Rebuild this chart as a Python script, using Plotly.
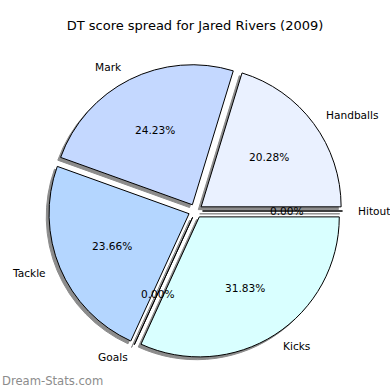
import math
import plotly.graph_objects as go

labels = ["Handballs", "Mark", "Tackle", "Goals", "Kicks", "Hitout"]
values = [20.28, 24.23, 23.66, 0.0, 31.83, 0.0]
colors = ["#eaf1ff", "#c4d8ff", "#b4d6ff", "#ffffff", "#d9ffff", "#ffffff"]
explode = [0.05] * len(labels)

W = H = 390
cx, cy_top, r = 195.5, 211.0, 140.0
half = r * (1 + max(explode))
dom_x = [(cx - half) / W, (cx + half) / W]
dom_y = [(H - cy_top - half) / H, (H - cy_top + half) / H]
sh = 0.02 * r  # matplotlib shadow offset (-0.02, -0.02) in data units
shadow_x = [dom_x[0] - sh / W, dom_x[1] - sh / W]
shadow_y = [dom_y[0] - sh / H, dom_y[1] - sh / H]

total = sum(values)
# first slice starts at 3 o'clock, going counter-clockwise (plotly: rotation = clockwise from 12)
rotation = 90 - values[0] / total * 360

common = dict(labels=labels, values=values, sort=False, direction="counterclockwise",
              rotation=rotation, pull=explode, showlegend=False, hoverinfo="skip",
              textinfo="none")

fig = go.Figure()
fig.add_trace(go.Pie(**common, domain=dict(x=shadow_x, y=shadow_y),
                     marker=dict(colors=["#8c8c8c"] * len(labels),
                                 line=dict(color="#8c8c8c", width=1))))
fig.add_trace(go.Pie(**common, domain=dict(x=dom_x, y=dom_y),
                     marker=dict(colors=colors, line=dict(color="black", width=1))))

FS = 10.6
# text positions computed from the data (matplotlib-style labeldistance 1.1, pctdistance 0.6)
annotations = []
theta = 0.0
for lab, v, ex in zip(labels, values, explode):
    frac = v / total
    mid = math.radians((theta + frac / 2) * 360)
    theta += frac
    ecx = cx + ex * r * math.cos(mid)
    ecy = cy_top - ex * r * math.sin(mid)
    lx = ecx + 1.1 * r * math.cos(mid)
    ly = ecy - 1.1 * r * math.sin(mid)
    px = ecx + 0.6 * r * math.cos(mid)
    py = ecy - 0.6 * r * math.sin(mid)
    annotations.append(dict(text=lab, xref="paper", yref="paper", x=lx / W, y=1 - ly / H,
                            xanchor="left" if math.cos(mid) > 0 else "right", yanchor="middle",
                            showarrow=False, borderpad=0,
                            font=dict(family="DejaVu Sans", size=FS, color="black")))
    annotations.append(dict(text=f"{frac * 100:.2f}%", xref="paper", yref="paper",
                            x=px / W, y=1 - py / H, xanchor="center", yanchor="middle",
                            showarrow=False, borderpad=0,
                            font=dict(family="DejaVu Sans", size=FS, color="black")))

annotations.append(dict(text="Dream-Stats.com", xref="paper", yref="paper", x=0, y=0,
                        xanchor="left", yanchor="bottom", yshift=0, showarrow=False,
                        font=dict(family="DejaVu Sans", size=11.6, color="#8c8c8c")))

fig.update_layout(
    width=W, height=H, margin=dict(l=0, r=0, t=0, b=0),
    paper_bgcolor="white", plot_bgcolor="white",
    title=dict(text="DT score spread for Jared Rivers (2009)", x=0.5, xanchor="center",
               y=1 - 25 / H, yanchor="middle",
               font=dict(family="DejaVu Sans", size=13, color="black")),
    annotations=annotations,
)
fig.write_html("out.html", config={"displayModeBar": False},
               post_script="document.body.style.margin='0';")
